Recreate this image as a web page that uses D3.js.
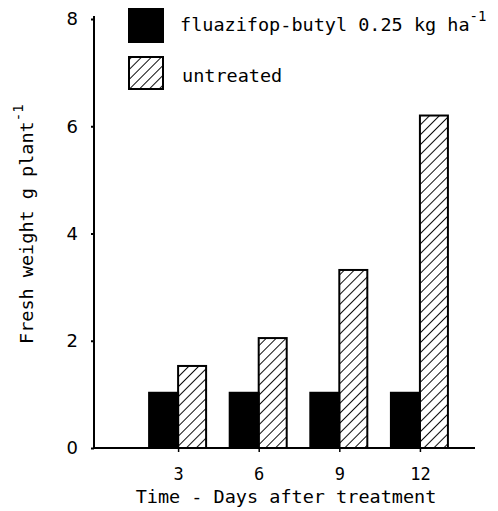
<!DOCTYPE html>
<html>
<head>
<meta charset="utf-8">
<script src="https://cdn.jsdelivr.net/npm/d3@7"></script>
<style>
  body { margin: 0; background: #fff; }
  text { font-family: "DejaVu Sans Mono", "Liberation Mono", monospace; fill: #000; }
</style>
</head>
<body>
<script>
// datos
const days = [3, 6, 9, 12];
const treated = [1.03, 1.03, 1.03, 1.03];     // fluazifop-butyl
const untreated = [1.53, 2.05, 3.32, 6.2];
const yTicks = [0, 2, 4, 6, 8];

const w = 498;
const h = 511;
const barW = 29;

const svg = d3.select("body")
    .append("svg")
    .attr("width", w)
    .attr("height", h);

// patron rayado
const defs = svg.append("defs");
defs.append("pattern")
    .attr("id", "hatch")
    .attr("patternUnits", "userSpaceOnUse")
    .attr("width", 7)
    .attr("height", 7)
    .attr("patternTransform", "rotate(45)")
    .append("line")
    .attr("x1", 0).attr("y1", 0)
    .attr("x2", 0).attr("y2", 7)
    .attr("stroke", "#000")
    .attr("stroke-width", 1.9);

const x = d3.scaleLinear().domain([-0.13, 14.05]).range([94, 475]);
const y = d3.scaleLinear().domain([0, 8]).range([448, 19]);

// ejes
svg.append("line")
    .attr("x1", x.range()[0]).attr("x2", x.range()[0])
    .attr("y1", y(8) - 3).attr("y2", y(0) + 1)
    .attr("stroke", "#000").attr("stroke-width", 2);
svg.append("line")
    .attr("x1", x.range()[0]).attr("x2", x.range()[1])
    .attr("y1", y(0)).attr("y2", y(0))
    .attr("stroke", "#000").attr("stroke-width", 2);

const yAxis = svg.append("g")
    .attr("transform", "translate(" + x.range()[0] + ",0)")
    .call(d3.axisLeft(y).tickValues(yTicks).tickSize(3).tickPadding(13));
yAxis.select(".domain").remove();
yAxis.selectAll("line").attr("stroke-width", 2);
yAxis.selectAll("text")
    .style("font-size", "18px")
    .style("font-family", "\"DejaVu Sans\", sans-serif");

const xAxis = svg.append("g")
    .attr("transform", "translate(0," + y(0) + ")")
    .call(d3.axisBottom(x).tickValues(days).tickSize(4).tickPadding(16));
xAxis.select(".domain").remove();
xAxis.selectAll("line").attr("stroke-width", 1.5);
xAxis.selectAll("text").style("font-size", "17px");

// barras
svg.selectAll("rect.treated")
    .data(treated)
    .enter()
    .append("rect")
    .attr("class", "treated")
    .attr("x", (d, i) => x(days[i]) - barW)
    .attr("y", d => y(d))
    .attr("width", barW)
    .attr("height", d => y(0) - y(d))
    .attr("fill", "#000")
    .attr("stroke", "#000")
    .attr("stroke-width", 2);

svg.selectAll("rect.untreated")
    .data(untreated)
    .enter()
    .append("rect")
    .attr("class", "untreated")
    .attr("x", (d, i) => x(days[i]))
    .attr("y", d => y(d))
    .attr("width", barW - 1)
    .attr("height", d => y(0) - y(d))
    .attr("fill", "url(#hatch)")
    .attr("stroke", "#000")
    .attr("stroke-width", 2);

// leyenda
svg.append("rect")
    .attr("x", 129).attr("y", 9)
    .attr("width", 34).attr("height", 33)
    .attr("fill", "#000").attr("stroke", "#000").attr("stroke-width", 2);
svg.append("rect")
    .attr("x", 129).attr("y", 57)
    .attr("width", 34).attr("height", 32)
    .attr("fill", "url(#hatch)").attr("stroke", "#000").attr("stroke-width", 2);

const t1 = svg.append("text")
    .attr("x", 180).attr("y", 31)
    .style("font-size", "18.5px");
t1.append("tspan").text("fluazifop-butyl 0.25 kg ha");
t1.append("tspan").attr("dy", -10).style("font-size", "14px").text("-1");

svg.append("text")
    .attr("x", 182).attr("y", 82)
    .style("font-size", "18.5px")
    .text("untreated");

// titulos de ejes
svg.append("text")
    .attr("x", 286).attr("y", 503)
    .attr("text-anchor", "middle")
    .style("font-size", "18.5px")
    .text("Time - Days after treatment");

const yl = svg.append("text")
    .attr("transform", "translate(33,344) rotate(-90)")
    .style("font-size", "18.5px");
yl.append("tspan").text("Fresh weight g plant");
yl.append("tspan").attr("dy", -10).style("font-size", "14px").text("-1");
</script>
</body>
</html>
